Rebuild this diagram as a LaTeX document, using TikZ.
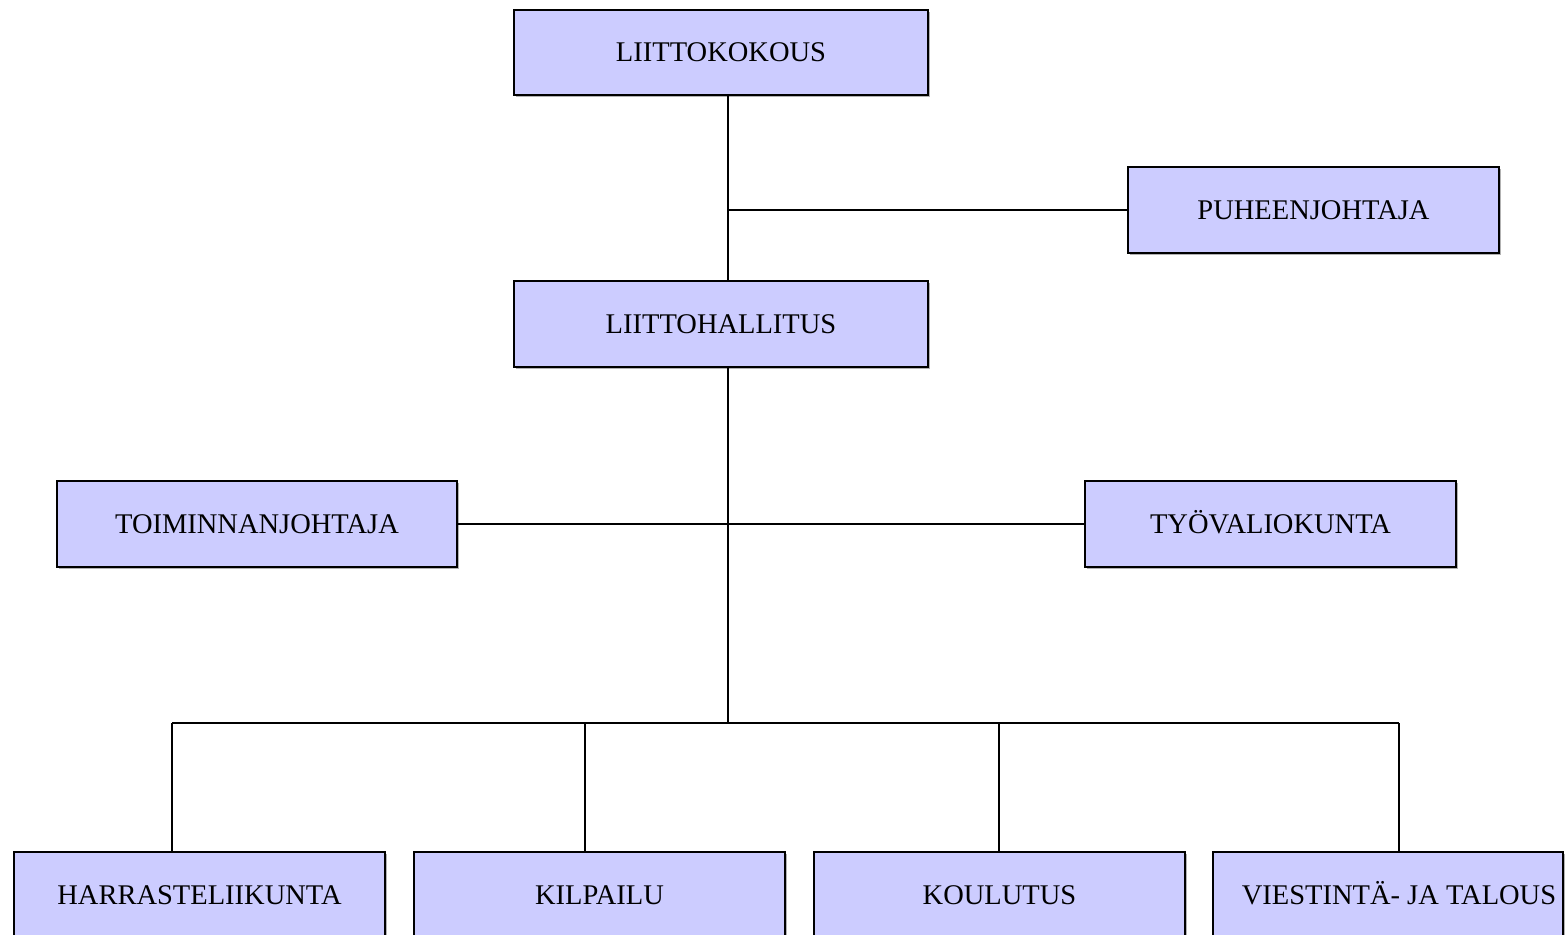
\documentclass[tikz,border=0pt]{standalone}
\usepackage{fontspec}
\setmainfont{Liberation Serif}
\definecolor{boxfill}{HTML}{CCCCFF}
\begin{document}
\begin{tikzpicture}[x=1pt,y=-1pt,
  orgbox/.style={draw=black, line width=1.6pt, fill=boxfill, inner sep=0pt,
    font=\fontsize{28.5}{33}\selectfont, text height=23pt, text depth=4.5pt},
  conn/.style={line width=1.6pt, draw=black}]
\useasboundingbox (0,0) rectangle (1565,934);
\fill[white] (0,0) rectangle (1565,934);
% shadows
\foreach \a/\b/\c/\d in {514/10/928/95, 1128/167/1499/253, 514/281/928/367, 57/481/457/567, 1085/481/1456/567, 14/852/385/940, 414/852/785/940, 814/852/1185/940, 1213/852/1563/940}
  \fill[black!30] (\a+2,\b+2) rectangle (\c+2,\d+2);
\node[orgbox, minimum width=414pt, minimum height=85pt] (kok) at (721,52.5) {LIITTOKOKOUS};
\node[orgbox, minimum width=371pt, minimum height=86pt] (puh) at (1313.5,210) {PUHEENJOHTAJA};
\node[orgbox, minimum width=414pt, minimum height=86pt] (hal) at (721,324) {LIITTOHALLITUS};
\node[orgbox, minimum width=400pt, minimum height=86pt] (toi) at (257,524) {TOIMINNANJOHTAJA};
\node[orgbox, minimum width=371pt, minimum height=86pt] (tyo) at (1270.5,524) {TYÖVALIOKUNTA};
\node[orgbox, minimum width=371pt, minimum height=86pt] (har) at (199.5,895) {HARRASTELIIKUNTA};
\node[orgbox, minimum width=371pt, minimum height=86pt] (kil) at (599.5,895) {KILPAILU};
\node[orgbox, minimum width=371pt, minimum height=86pt] (kou) at (999.5,895) {KOULUTUS};
\node[orgbox, minimum width=350pt, minimum height=86pt] (vie) at (1388,895) {\hspace{22pt}VIESTINTÄ- JA TALOUS};
\coordinate (cp) at (728,210);
\coordinate (bus) at (728,723);
\coordinate (d1) at (172,723);
\coordinate (d2) at (585,723);
\coordinate (d3) at (999,723);
\coordinate (d4) at (1399,723);
\draw[conn] ([xshift=7pt]kok.south) -- ([xshift=7pt]hal.north);
\draw[conn] (cp) -- (puh.west);
\draw[conn] ([xshift=7pt]hal.south) -- (bus);
\draw[conn] (toi.east) -- (tyo.west);
\draw[conn] (d1) -- (d4);
\draw[conn] (d1) -- (d1 |- har.north);
\draw[conn] (d2) -- (d2 |- kil.north);
\draw[conn] (d3) -- (d3 |- kou.north);
\draw[conn] (d4) -- (d4 |- vie.north);
\end{tikzpicture}
\end{document}
